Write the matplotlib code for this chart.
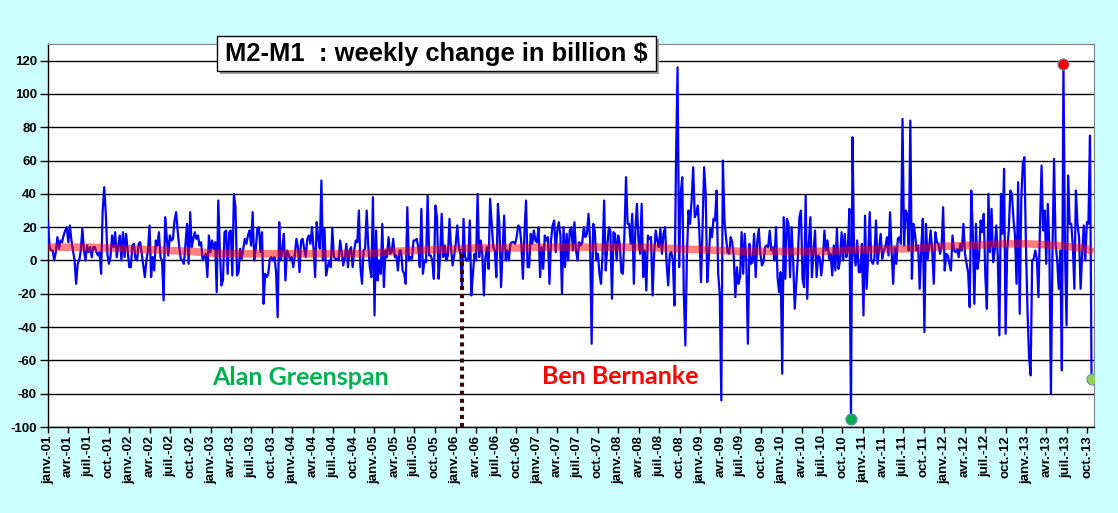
import matplotlib
matplotlib.use("Agg")
import matplotlib.pyplot as plt
from matplotlib.patches import Rectangle
import pandas as pd
import numpy as np

plt.rcParams["axes.unicode_minus"] = False

# variation hebdomadaire M2-M1 (milliards $), semaine par semaine
chg_part1 = [23, 8, 6, 6, 0, 5, 14, 7, 12, 11, 15, 18, 20, 11, 21, 12, 6, 0, -14, -2,
             0, 6, 19, 6, 0, 9, 5, 8, 2, 8, 8, 5, 3, 5, -8, 30, 44,
             28, 4, -2, 2, 15, 8, 17, 2, 9, 15, 0, 17, 2, 16, 6, -4, -4, 9, 10, 1,
             0, 10, 11, 4, -3, -10, 0, 6, 21, -10, 2, -6, 12, 9, 17, 2, 0, -24, 26, 14,
             3, 15, 12, 13, 24, 29, 18, 8, 1, 0, -2, 10, 22, -2, 29, 8, 13, 17, 13, 15,
             9, 11, 0, 2, 4, -10, 15, 5, 12, 7, 11, -19, 36]
chg_part2 = [6, -15, -12, 17, 18, -8, 17, 18, -9, 40, 32, -9, -7, 7, 1, 7, 13, 10, 15, 18,
             9, 29, 0, 7, 19, 20, 5, 17, -26, -8, -10, -8, 1, 2, 0, 2, -7, -34, 23, 0,
             6, 16, -12, 6, 4, 0, 2, -4, 3, 13, 8, -7, 12, 13, 7, 2, 13, 15, 10, 20,
             7, -10, 23, 13, 7, 48, 0, 19, -9, -4, 0, -4, 19, 2, 1, 1, 0, 12, 5, -3,
             2, 10, -4, 6, 8, -4, 6, 12, 11, 30, -4, -14, 6, 7, 30, 9, -4, -10, 38, -33,
             18, -12, 0, -8, 22, -16, 6, 2, 14, 4]
chg_part3 = [5, 13, 2, 3, -6, 6, 6, -6, -8, -14, 32, 0, 2, 1, 12, 12, 13, 8, -4, 31,
             -8, 0, -1, 39, 3, 3, 0, -11, 33, 26, -11, 2, 28, 2, 9, 0, 3, 25, 7, -3,
             3, 10, 21, 8, 4, -17, 25, 2, 0, 0, 24, -21, -8, 4, 0, 40, 2, 12, 4, -21,
             2, 8, -5, 37, 22, 8, 6, -10, 34, 20, -16, 6, 27, 0, 6, 0, 10, 11, 11, 10,
             14, 21, 20, 10, -11, 17, 36, -4, -4, 16, 10, 18, 12, 11, 20, -10, 8, -5, 15, 12,
             14, -14, 12, 21, 24, 5, 18, 23, 15, -20, 20]
chg_part4 = [-4, 16, 0, 18, 20, 6, 23, 6, 0, 11, 9, 11, 20, 14, 16, 28, 12, -50, 22, 18,
             0, 4, -8, -14, 4, 36, -6, 8, 20, 18, -23, 17, 16, 0, 15, 10, -7, -8, 16, 50,
             22, 22, 10, 28, -14, 19, 34, 12, 4, 34, -10, 6, -18, 15, 13, 14, -21, 4, 18, 12,
             8, 19, 4, 16, 20, -2, -15, 4, 5, 0, -27, 60, 116, -4, 40, 50, -20, -51, 4, 30,
             22, 36, 56, 26, 28, 33, 16, -13, 20, 56, 40, -13, 2, 19, 14, 25, 24, 42, -8, -20,
             -84, 60, 24, 14, 5, 4, 14, 11, 2, -22, -4]
chg_part5 = [-14, -10, 17, -8, 16, 0, -50, 10, -2, -1, 16, -10, 11, 19, 4, -3, -1, 8, 9, 8,
             18, 6, 8, 0, 20, -10, -19, -7, -68, 26, -11, 25, 22, -10, 20, 0, -29, -14, 2, 26,
             30, -11, -16, 39, -23, 10, 26, -10, 5, 18, -10, 3, 2, -9, 0, 18, 6, 12, 1, 4,
             -9, 9, -6, 19, -5, 0, 17, 0, 16, 2, 7, 31, -95, 74, 4, -3, 12, -7, -7, 10,
             -33, 27, -17, 2, 29, 0, -2, 1, 24, -2, 7, 16, 1, 6, 8, 14, 3, 29, 6, -14,
             8, -2, 13, 14, 10, 85, 9, 30, 28, 6, 84, -11, 22]
chg_part6 = [16, 6, 9, -17, 8, 25, -43, 22, 1, 8, 18, 6, -14, 17, 11, 10, 4, 8, 32, -6,
             4, 3, -2, -6, 15, 6, 5, 7, 2, 10, 6, 22, 4, -2, -7, -28, 42, 16, -26, 22,
             -5, 2, 24, 17, 28, -9, -29, 40, 5, 31, -1, 6, 21, 2, -45, 40, 16, 55, -44, 6,
             18, 42, 40, 25, 15, -14, 47, -32, 36, 58, 62, 9, -30, -58, -69, 0, 1, 6, 1, -22,
             21, 57, 18, 30, -2, 34, 8, -80, 6, 61, 10, 0, -17, 6, -66, 118, 6, -39, 51, 22,
             22, 9, -17, 42, 22, 14, -17, 4, 21, 0, 23, 22, 75, -71]
weekly_change = chg_part1 + chg_part2 + chg_part3 + chg_part4 + chg_part5 + chg_part6
week_dates = pd.date_range("2001-01-01", periods=len(weekly_change), freq="7D")

# tendance (courbe rouge), valeurs trimestrielles
trend_dates = list(pd.date_range("2001-01-01", "2013-10-01", freq="QS")) + [pd.Timestamp("2013-10-14")]
trend_values = [8, 8, 8, 7.5, 7, 6.5, 6, 5.5, 4.5, 4, 4, 4, 4, 4, 4, 4,
                4.5, 5.5, 6, 6.5, 7, 7.5, 7.5, 7.5, 8, 8, 8, 8, 8, 8, 7.5, 7,
                6.5, 6, 5.5, 5.5, 5.5, 5.5, 5.5, 6, 6.5, 7, 7, 7.5, 8.5, 9, 9.5, 10,
                10, 9.5, 8.5, 7, 6]

mois = {1: "janv.", 4: "avr.", 7: "juil.", 10: "oct."}
tick_dates = pd.date_range("2001-01-01", "2013-10-01", freq="QS")
tick_labels = [f"{mois[d.month]}-{d.year % 100:02d}" for d in tick_dates]

bernanke_start = pd.Timestamp("2006-02-01")

W, H = 1118, 513
fig = plt.figure(figsize=(W / 100, H / 100), dpi=100, facecolor="#CCFFFF")
ax = fig.add_axes([48 / W, 1 - 427 / H, (1094 - 48) / W, (427 - 44) / H])
ax.set_facecolor("white")

ax.plot(week_dates, weekly_change, color="#0000FF", lw=1.6, zorder=3)
ax.plot(trend_dates, trend_values, color="#FF0000", lw=5.5, alpha=0.5, zorder=4)

vals = np.array(weekly_change)
imax, imin = int(vals.argmax()), int(vals.argmin())
ax.plot(week_dates[imax], vals[imax], "o", ms=8, mfc="#FF0000", mec="#6F8FB0", mew=0.8, zorder=6)
ax.plot(week_dates[imin], vals[imin], "o", ms=8, mfc="#00B050", mec="#6F8FB0", mew=0.8, zorder=6)
ax.plot(week_dates[-1], vals[-1], "o", ms=8, mfc="#92D050", mec="#6F8FB0", mew=0.8, zorder=6)

ax.vlines(bernanke_start, -100, 7, colors="#3F0000", lw=2.9, linestyles=(0, (1, 1)), zorder=5)

ax.set_ylim(-100, 130)
ax.set_xlim(pd.Timestamp("2001-01-01"), pd.Timestamp("2013-11-01"))
ax.set_yticks(range(-100, 121, 20))
ax.yaxis.grid(True, color="black", lw=1)
ax.set_axisbelow(True)

ax.set_xticks(tick_dates)
ax.set_xticklabels(tick_labels, rotation=90, fontsize=9.5, fontweight="bold", family="Liberation Sans")
for lab in ax.get_yticklabels():
    lab.set_fontsize(9.5)
    lab.set_fontweight("bold")
    lab.set_family("Liberation Sans")
ax.tick_params(axis="y", direction="out", length=6, width=1, pad=2)
ax.tick_params(axis="x", direction="out", length=4, width=1, pad=2)

for s in ["top", "right"]:
    ax.spines[s].set_color("#808080")
    ax.spines[s].set_linewidth(0.8)
for s in ["left", "bottom"]:
    ax.spines[s].set_color("black")
    ax.spines[s].set_linewidth(1)

# cadre du titre avec ombre
fig.add_artist(Rectangle((220 / W, 1 - 74 / H), 439 / W, 35 / H, transform=fig.transFigure,
                         facecolor="#A0A0A0", edgecolor="none", zorder=8))
fig.add_artist(Rectangle((217 / W, 1 - 71 / H), 439 / W, 35 / H, transform=fig.transFigure,
                         facecolor="white", edgecolor="black", lw=1, zorder=9))
fig.text(436.5 / W, 1 - 54 / H, "M2-M1  : weekly change in billion $", ha="center", va="center",
         fontsize=18.4, fontweight="bold", family="Liberation Sans", zorder=10)

ax.text(0.241, 0.128, "Alan Greenspan", transform=ax.transAxes, ha="center", va="center",
        color="#00B050", fontsize=18, fontweight="bold", family="Lato", zorder=7)
ax.text(0.547, 0.133, "Ben Bernanke", transform=ax.transAxes, ha="center", va="center",
        color="#FF0000", fontsize=18, fontweight="bold", family="Lato", zorder=7)

fig.savefig("out.png", dpi=100, facecolor=fig.get_facecolor())
